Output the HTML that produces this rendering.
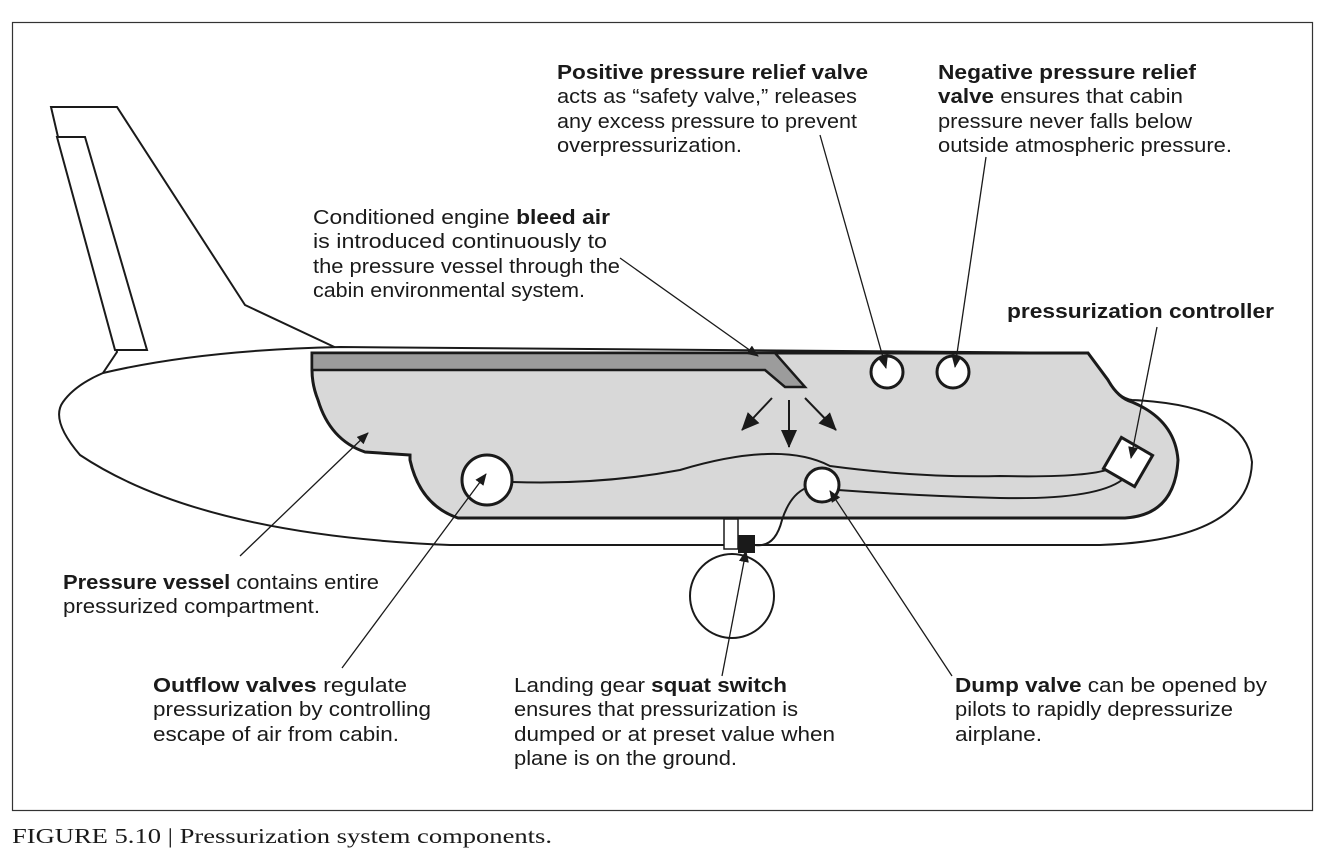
<!DOCTYPE html>
<html><head><meta charset="utf-8"><style>
html,body{margin:0;padding:0;background:#fff;}
svg{display:block;}
text{font-family:"Liberation Sans",sans-serif;font-size:20px;fill:#1a1a1a;}
.b{font-weight:bold;}
</style></head><body>
<svg width="1334" height="863" viewBox="0 0 1334 863" xmlns="http://www.w3.org/2000/svg">
<defs>
<marker id="ah" markerWidth="12" markerHeight="10" refX="11" refY="5" orient="auto" markerUnits="userSpaceOnUse">
<path d="M0,0 L12,5 L0,10 Z" fill="#1a1a1a"/></marker>
<marker id="bh" markerWidth="18" markerHeight="16" refX="17" refY="8" orient="auto" markerUnits="userSpaceOnUse">
<path d="M0,0 L18,8 L0,16 Z" fill="#1a1a1a"/></marker>
</defs>
<rect x="12.5" y="22.5" width="1300" height="788" fill="none" stroke="#333" stroke-width="1.2"/>

<!-- tail -->
<g fill="#fff" stroke="#1a1a1a" stroke-width="2">
<path d="M51,107 L117,107 L245,305 L345,352 L300,350 L103,373 L117,352 L58,137 Z"/>
<path d="M57,137 L85,137 L147,350 L115,350 Z"/>
</g>
<!-- fuselage -->
<path d="M103,373 Q200,350 340,347 L1088,353 L1108,380 Q1118,398 1132,400 Q1245,405 1252,462 Q1250,540 1100,545 L450,545 Q200,535 80,455 Q50,420 63,402 Q75,385 103,373 Z" fill="#fff" stroke="#1a1a1a" stroke-width="2"/>
<!-- cabin -->
<path d="M312,353 L1088,353 L1108,380 Q1118,398 1132,402 Q1175,420 1178,460 Q1175,515 1125,518 L458,518 Q420,505 410,460 L410,455 L365,452 Q330,440 318,400 Q312,385 312,370 Z" fill="#d8d8d8" stroke="#1a1a1a" stroke-width="3"/>
<!-- duct -->
<path d="M312,353 L775,353 L805,387 L785,387 L765,370 L312,370 Z" fill="#9c9c9c" stroke="#1a1a1a" stroke-width="2.5"/>
<!-- air arrows -->
<g stroke="#1a1a1a" stroke-width="2">
<line x1="772" y1="398" x2="742" y2="430" marker-end="url(#bh)"/>
<line x1="789" y1="400" x2="789" y2="447" marker-end="url(#bh)"/>
<line x1="805" y1="398" x2="836" y2="430" marker-end="url(#bh)"/>
</g>
<!-- wires -->
<g fill="none" stroke="#1a1a1a" stroke-width="2">
<path d="M512,482 Q600,485 680,470 Q780,440 830,466 Q920,478 1000,476 Q1090,478 1112,468"/>
<path d="M838,490 Q920,496 1000,498 Q1095,500 1122,480"/>
<path d="M806,488 Q790,495 782,520 Q775,548 755,545"/>
</g>
<!-- valves -->
<g fill="#fff" stroke="#1a1a1a" stroke-width="3">
<circle cx="887" cy="372" r="16"/>
<circle cx="953" cy="372" r="16"/>
<circle cx="487" cy="480" r="25"/>
<circle cx="822" cy="485" r="17"/>
<rect x="1110" y="444" width="36" height="36" transform="rotate(30 1128 462)"/>
</g>
<!-- gear -->
<rect x="724" y="519" width="14" height="30" fill="#fff" stroke="#1a1a1a" stroke-width="1.5"/>
<rect x="738" y="535" width="17" height="18" fill="#1a1a1a"/>
<circle cx="732" cy="596" r="42" fill="#fff" stroke="#1a1a1a" stroke-width="2"/>
<!-- leaders -->
<g stroke="#1a1a1a" stroke-width="1.3" fill="none">
<line x1="620" y1="258" x2="758" y2="356" marker-end="url(#ah)"/>
<line x1="820" y1="135" x2="886" y2="368" marker-end="url(#ah)"/>
<line x1="986" y1="157" x2="955" y2="367" marker-end="url(#ah)"/>
<line x1="1157" y1="327" x2="1131" y2="458" marker-end="url(#ah)"/>
<line x1="240" y1="556" x2="368" y2="433" marker-end="url(#ah)"/>
<line x1="342" y1="668" x2="486" y2="474" marker-end="url(#ah)"/>
<line x1="722" y1="676" x2="746" y2="551" marker-end="url(#ah)"/>
<line x1="952" y1="676" x2="830" y2="491" marker-end="url(#ah)"/>
</g>

<text x="557" y="79" textLength="311" lengthAdjust="spacingAndGlyphs" class="b">Positive pressure relief valve</text>
<text x="557" y="103" textLength="300" lengthAdjust="spacingAndGlyphs">acts as “safety valve,” releases</text>
<text x="557" y="128" textLength="300" lengthAdjust="spacingAndGlyphs">any excess pressure to prevent</text>
<text x="557" y="152" textLength="185" lengthAdjust="spacingAndGlyphs">overpressurization.</text>

<text x="938" y="79" textLength="258" lengthAdjust="spacingAndGlyphs" class="b">Negative pressure relief</text>
<text x="938" y="103" textLength="245" lengthAdjust="spacingAndGlyphs"><tspan class="b">valve</tspan> ensures that cabin</text>
<text x="938" y="128" textLength="254" lengthAdjust="spacingAndGlyphs">pressure never falls below</text>
<text x="938" y="152" textLength="294" lengthAdjust="spacingAndGlyphs">outside atmospheric pressure.</text>

<text x="313" y="224" textLength="297" lengthAdjust="spacingAndGlyphs">Conditioned engine <tspan class="b">bleed air</tspan></text>
<text x="313" y="248" textLength="294" lengthAdjust="spacingAndGlyphs">is introduced continuously to</text>
<text x="313" y="273" textLength="307" lengthAdjust="spacingAndGlyphs">the pressure vessel through the</text>
<text x="313" y="297" textLength="272" lengthAdjust="spacingAndGlyphs">cabin environmental system.</text>

<text x="1007" y="318" textLength="267" lengthAdjust="spacingAndGlyphs" class="b">pressurization controller</text>

<text x="63" y="589" textLength="316" lengthAdjust="spacingAndGlyphs"><tspan class="b">Pressure vessel</tspan> contains entire</text>
<text x="63" y="613" textLength="257" lengthAdjust="spacingAndGlyphs">pressurized compartment.</text>

<text x="153" y="692" textLength="254" lengthAdjust="spacingAndGlyphs"><tspan class="b">Outflow valves</tspan> regulate</text>
<text x="153" y="716" textLength="278" lengthAdjust="spacingAndGlyphs">pressurization by controlling</text>
<text x="153" y="741" textLength="246" lengthAdjust="spacingAndGlyphs">escape of air from cabin.</text>

<text x="514" y="692" textLength="273" lengthAdjust="spacingAndGlyphs">Landing gear <tspan class="b">squat switch</tspan></text>
<text x="514" y="716" textLength="284" lengthAdjust="spacingAndGlyphs">ensures that pressurization is</text>
<text x="514" y="741" textLength="321" lengthAdjust="spacingAndGlyphs">dumped or at preset value when</text>
<text x="514" y="765" textLength="223" lengthAdjust="spacingAndGlyphs">plane is on the ground.</text>

<text x="955" y="692" textLength="312" lengthAdjust="spacingAndGlyphs"><tspan class="b">Dump valve</tspan> can be opened by</text>
<text x="955" y="716" textLength="278" lengthAdjust="spacingAndGlyphs">pilots to rapidly depressurize</text>
<text x="955" y="741" textLength="87" lengthAdjust="spacingAndGlyphs">airplane.</text>

<text x="12" y="843" textLength="540" lengthAdjust="spacingAndGlyphs" style="font-family:'Liberation Serif',serif;font-size:21px;">FIGURE 5.10 | Pressurization system components.</text>
</svg>
</body></html>
